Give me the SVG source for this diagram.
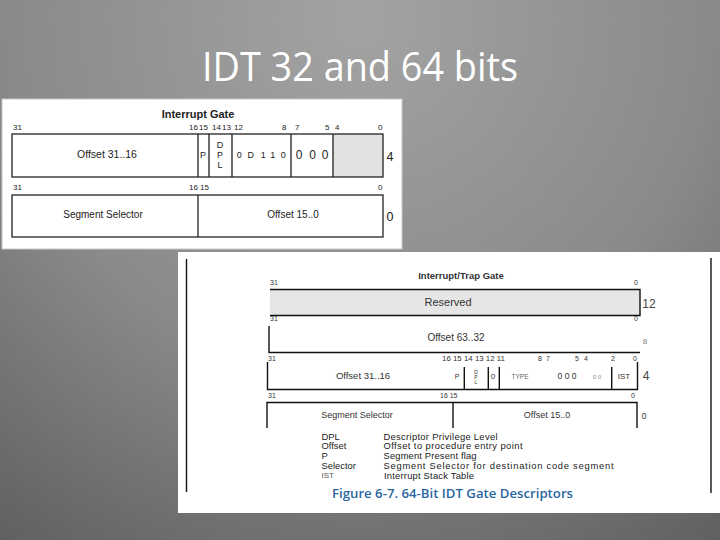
<svg xmlns="http://www.w3.org/2000/svg" width="720" height="540" viewBox="0 0 720 540">
<defs>
<radialGradient id="bg" cx="360" cy="20" r="700" gradientUnits="userSpaceOnUse">
<stop offset="0" stop-color="#a3a3a3"/>
<stop offset="0.5" stop-color="#8a8a8a"/>
<stop offset="1" stop-color="#565656"/>
</radialGradient>
<style>
.t{font-family:"Liberation Sans",Arial,sans-serif;fill:#222}
.b{font-weight:bold}
.ln{stroke:#222;stroke-width:1.3;fill:none}
.ln2{stroke:#111;stroke-width:1.4;fill:none}
.s2{font-family:"Liberation Sans",Arial,sans-serif;fill:#333}
.lg{font-family:"Liberation Sans",Arial,sans-serif;fill:#222;font-size:9.4px}
</style>
</defs>
<rect x="0" y="0" width="720" height="540" fill="url(#bg)"/>
<text x="360" y="81" text-anchor="middle" font-family="'Open Sans','Noto Sans',sans-serif" font-size="40" fill="#ffffff" textLength="316" lengthAdjust="spacingAndGlyphs">IDT 32 and 64 bits</text>

<g id="gate32">
<rect x="2" y="99" width="400" height="150" fill="#ffffff" stroke="#c8c8c8" stroke-width="1"/>
<text class="t b" x="198" y="118" font-size="11" text-anchor="middle">Interrupt Gate</text>
<g class="t" font-size="8">
<text x="13" y="130">31</text>
<text x="189" y="130">16</text>
<text x="199" y="130">15</text>
<text x="212" y="130">14</text>
<text x="222" y="130">13</text>
<text x="234" y="130">12</text>
<text x="282" y="130">8</text>
<text x="295" y="130">7</text>
<text x="325" y="130">5</text>
<text x="335" y="130">4</text>
<text x="378" y="130">0</text>
<text x="13" y="190">31</text>
<text x="189" y="190">16</text>
<text x="200" y="190">15</text>
<text x="378" y="190">0</text>
</g>
<rect x="333" y="134" width="50" height="43" fill="#e2e2e2"/>
<rect class="ln" x="12" y="134" width="371" height="43"/>
<path class="ln" d="M198,134V177M209,134V177M232,134V177M291,134V177M333,134V177"/>
<rect class="ln" x="12" y="195" width="371" height="42"/>
<path class="ln" d="M198,195V237"/>
<g class="t" font-size="10.5" text-anchor="middle">
<text x="107" y="158">Offset 31..16</text>
<text x="203" y="158" font-size="9">P</text>
<text x="220" y="148" font-size="9">D</text>
<text x="220" y="158" font-size="9">P</text>
<text x="220" y="168" font-size="9">L</text>
<text x="239.3" y="158" font-size="9">0</text>
<text x="250.7" y="158" font-size="9">D</text>
<text x="263.3" y="158" font-size="9">1</text>
<text x="272.7" y="158" font-size="9">1</text>
<text x="283.3" y="158" font-size="9">0</text>
<text x="299" y="158.5" font-size="12">0</text>
<text x="312.7" y="158.5" font-size="12">0</text>
<text x="325" y="158.5" font-size="12">0</text>
<text x="390" y="161" font-size="12.5">4</text>
<text x="103" y="218" font-size="10">Segment Selector</text>
<text x="293" y="218" font-size="10">Offset 15..0</text>
<text x="390" y="221" font-size="12.5">0</text>
</g>
</g>

<g id="gate64">
<rect x="178" y="252" width="542" height="261" fill="#ffffff"/>
<path class="ln2" d="M186.5,259V492M711,258V493"/>
<text class="s2 b" x="461" y="279" font-size="9.5" text-anchor="middle" fill="#222">Interrupt/Trap Gate</text>
<g class="s2" font-size="7" fill="#555">
<text x="270" y="285">31</text>
<text x="634" y="285">0</text>
<text x="270" y="321">31</text>
<text x="634" y="321">0</text>
<text x="268" y="361">31</text>
<text x="442" y="361" textLength="63" lengthAdjust="spacingAndGlyphs">16 15 14 13 12 11</text>
<text x="538" y="361">8</text>
<text x="546" y="361">7</text>
<text x="575" y="361">5</text>
<text x="584" y="361">4</text>
<text x="611" y="361">2</text>
<text x="633" y="361">0</text>
<text x="268" y="398">31</text>
<text x="440" y="398">16 15</text>
<text x="631" y="398">0</text>
</g>
<rect x="270" y="289.5" width="370" height="26" fill="#e6e6e6"/>
<path class="ln2" d="M270,289.5H640V315.5H270M269,326V352.5H640"/>
<path class="ln2" d="M267.5,362V389.5H637.5V362M464.3,367V389.5M488.3,367V389.5M499.3,367V389.5M611.7,367V389.5"/>
<path class="ln2" d="M267,428V402.5H637V428M453,402.5V428"/>
<g class="s2" font-size="10" text-anchor="middle">
<text x="448" y="306" font-size="11">Reserved</text>
<text x="649" y="308" font-size="12" fill="#444">12</text>
<text x="456" y="341">Offset 63..32</text>
<text x="645" y="344" font-size="8" fill="#888">8</text>
<text x="363" y="379" font-size="9.5">Offset 31..16</text>
<text x="457" y="379" font-size="7">P</text>
<text x="476" y="374" font-size="5">D</text>
<text x="476" y="379" font-size="5">P</text>
<text x="476" y="384" font-size="5">L</text>
<text x="493" y="379" font-size="8">0</text>
<text x="520" y="379" font-size="6.5" fill="#666">TYPE</text>
<text x="567" y="379" font-size="8.5">0  0  0</text>
<text x="597" y="379" font-size="6" fill="#888">0  0</text>
<text x="624" y="379" font-size="8">IST</text>
<text x="646" y="380" font-size="12" fill="#444">4</text>
<text x="357" y="418" font-size="9">Segment Selector</text>
<text x="547" y="418" font-size="9">Offset 15..0</text>
<text x="644" y="419" font-size="8.5">0</text>
</g>
<g class="lg" lengthAdjust="spacingAndGlyphs">
<text x="321.5" y="439.5">DPL</text>
<text x="383.5" y="439.5" textLength="114">Descriptor Privilege Level</text>
<text x="321.5" y="449.3">Offset</text>
<text x="383.5" y="449.3" textLength="139">Offset to procedure entry point</text>
<text x="321.5" y="459.1">P</text>
<text x="383.5" y="459.1" textLength="93">Segment Present flag</text>
<text x="321.5" y="468.9">Selector</text>
<text x="383.5" y="468.9" textLength="230">Segment Selector for destination code segment</text>
<text x="321.5" y="477.5" font-size="8" fill="#555">IST</text>
<text x="384" y="478.7" textLength="90">Interrupt Stack Table</text>
</g>
<text x="332" y="498" font-family="'Open Sans','Noto Sans',sans-serif" font-size="12" font-weight="600" fill="#2a66a0" textLength="241" lengthAdjust="spacingAndGlyphs">Figure 6-7.  64-Bit IDT Gate Descriptors</text>
</g>
</svg>
